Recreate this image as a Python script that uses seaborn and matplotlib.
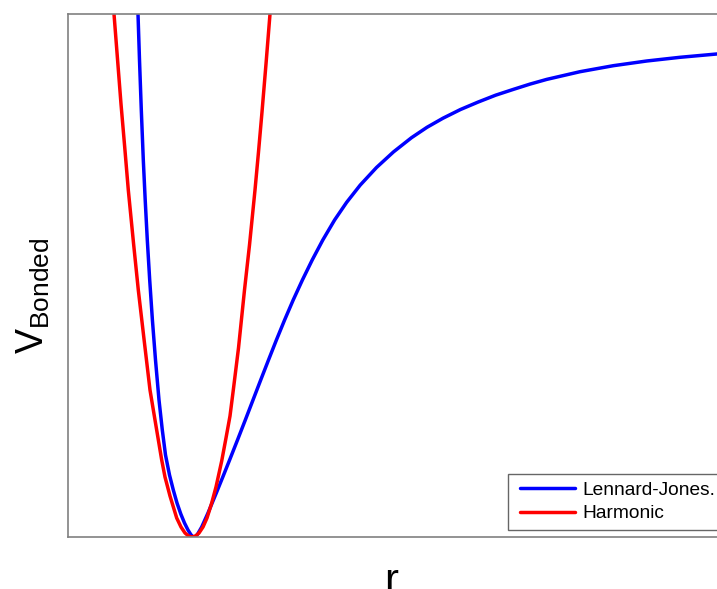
import matplotlib
matplotlib.use("Agg")
import matplotlib.pyplot as plt
from matplotlib.lines import Line2D
from matplotlib.legend_handler import HandlerLine2D
import seaborn as sns
import pandas as pd

# Bond potential curves: separation r (pm) and energy V (arbitrary units)
lj_r = [69.3, 70.0, 71.5, 73.3, 75.3, 77.2, 79.3, 81.7, 84.4, 87.5, 91.0, 94.3,
        97.5, 101.5, 105.3, 109.0, 112.8, 116.5, 120.0, 122.8, 124.6, 126.0,
        127.4, 129.4, 133.7, 140.0, 148.3, 154.8, 161.6, 169.5, 177.3, 185.0,
        192.7, 200.5, 208.4, 216.6, 225.2, 234.4, 244.2, 254.8, 266.6, 278.6,
        292.2, 308.5, 325.5, 343.5, 359.0, 375.0, 392.5, 410.0, 427.6, 445.3,
        462.0, 478.7, 512.0, 545.3, 578.7, 612.0, 648.7, 692.0]
lj_v = [542, 523, 477, 427, 377, 337, 297, 257, 217, 177, 137, 107,
        82, 62, 47, 34, 23, 14, 7, 2.5, 0.5, 0,
        0.5, 2.5, 10, 24, 44, 60, 77, 97, 117, 137,
        157, 177, 197, 217, 237, 257, 277, 297, 317, 334.6,
        351.9, 369.5, 385.1, 399.3, 409.7, 418.8, 427.5, 434.9, 441.8, 447.6,
        452.9, 457.6, 465.3, 471.3, 476.0, 479.7, 483.0, 486.0]

harm_r = [43.0, 46.0, 49.5, 53.0, 56.7, 60.3, 65.5, 70.3, 76.0, 82.0, 88.0, 93.7,
          97.0, 102.0, 108.7, 113.0, 117.0, 120.5, 124.0, 127.5, 131.0, 135.0,
          139.0, 143.7, 148.0, 153.7, 158.0, 162.0, 165.3, 170.5, 176.5, 181.5,
          187.0, 190.5, 194.0, 198.0, 202.0, 204.5]
harm_v = [547, 523, 478, 433, 390, 347, 294, 247, 198, 147, 111, 77,
          60, 41, 19, 10, 4, 1, 0, 1, 4, 10,
          19, 34, 50, 76, 99, 121, 147, 189, 247, 292,
          347, 385, 425, 473, 523, 547]

series_labels = ["Lennard-Jones.", "Harmonic"]
series_colors = ["#0000ff", "#ff0000"]

sns.set_theme(style="white")
plt.rcParams["font.family"] = ["Liberation Sans", "DejaVu Sans"]
plt.rcParams["mathtext.fontset"] = "custom"
plt.rcParams["mathtext.rm"] = "Liberation Sans"
plt.rcParams["mathtext.it"] = "Liberation Sans"

fig = plt.figure(figsize=(7.17, 5.89), dpi=100)
ax = fig.add_axes([68 / 717, 52 / 589, 672 / 717, 523 / 589])

df_lj = pd.DataFrame({"r": lj_r, "V": lj_v})
df_h = pd.DataFrame({"r": harm_r, "V": harm_v})

sns.lineplot(data=df_lj, x="r", y="V", color=series_colors[0], linewidth=2.5,
             label=series_labels[0], ax=ax, sort=False, estimator=None)
sns.lineplot(data=df_h, x="r", y="V", color=series_colors[1], linewidth=2.5,
             label=series_labels[1], ax=ax, sort=False, estimator=None)

ax.set_xlim(0, 672)
ax.set_ylim(0, 523)
ax.set_xticks([])
ax.set_yticks([])
for s in ax.spines.values():
    s.set_color("0.5")
    s.set_linewidth(1.2)
    s.set_zorder(5)

ax.set_xlabel("r", fontsize=30, color="black")
ax.xaxis.set_label_coords((391 - 68) / 672, -(562 - 537) / 523)
ax.set_ylabel(r"$\mathregular{V_{Bonded}}$", fontsize=27, color="black")
ax.yaxis.set_label_coords((52 - 68) / 672, (537 - 296) / 523)

leg = ax.legend(loc="upper left", bbox_to_anchor=(508 / 717, (589 - 474) / 589),
                bbox_transform=fig.transFigure, borderaxespad=0, fontsize=13.8,
                frameon=True, fancybox=False, handlelength=3.11, handletextpad=0.37,
                borderpad=0.4, labelspacing=0.3,
                handler_map={Line2D: HandlerLine2D(xpad=0.24)})
leg.get_frame().set_edgecolor("0.4")
leg.get_frame().set_linewidth(1.0)
leg.get_frame().set_alpha(1)
for t in leg.get_texts():
    t.set_color("black")

fig.savefig("out.png", dpi=100)
